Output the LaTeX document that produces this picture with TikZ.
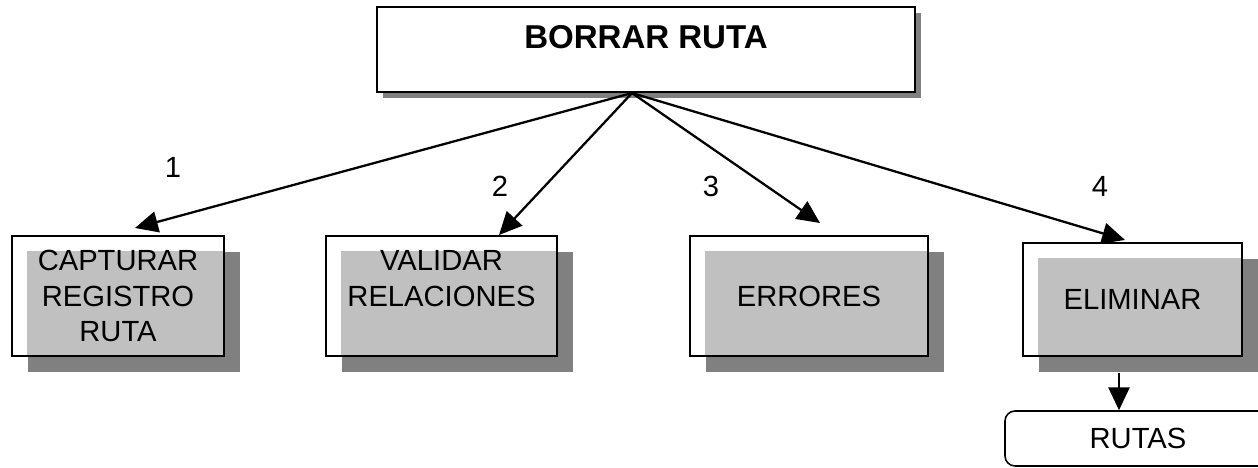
\documentclass[tikz,border=0pt]{standalone}
\usepackage{fontspec}
\setmainfont{Liberation Sans}
\usepackage{tikz}
\usetikzlibrary{arrows.meta,positioning,shadows}
\definecolor{boxfill}{HTML}{C0C0C0}
\definecolor{boxshadow}{HTML}{808080}

\begin{document}
\begin{tikzpicture}[
  lowbox/.style={draw, line width=1.1pt, fill=white, align=center, inner sep=0pt,
    font=\fontsize{16.6}{20.2}\selectfont,
    drop shadow={shadow xshift=0.32cm, shadow yshift=-0.32cm, fill=boxshadow, opacity=1},
    path picture={\fill[boxfill] ([shift={(0.3,-0.3)}]path picture bounding box.north west)
      rectangle (path picture bounding box.south east);}},
  link/.style={-{Triangle[length=13pt, width=12pt]}, line width=1.3pt},
  label/.style={font=\fontsize{16.6}{20.2}\selectfont, inner sep=0pt}
]
  \useasboundingbox (0,0) rectangle (25.16,9.36);

  % Main box
  \node[draw, line width=1.2pt, fill=white, minimum width=10.76cm, minimum height=1.70cm,
    drop shadow={shadow xshift=0.12cm, shadow yshift=-0.12cm, fill=boxshadow, opacity=1}]
    (borrar) at (12.92,8.37) {};
  \node[font=\bfseries\fontsize{18.8}{22}\selectfont, inner sep=0pt, outer sep=0pt,
    below=0.38cm of borrar.north] (borrarT) {BORRAR RUTA};

  % Sub boxes
  \node[lowbox, minimum width=4.24cm, minimum height=2.40cm] (capt) at (2.36,3.44)
    {CAPTURAR\\REGISTRO\\RUTA};
  \node[lowbox, minimum width=4.62cm, minimum height=2.40cm] (valid) at (8.83,3.44) {};
  \node[label, align=center] (validT) at ([yshift=0.35cm]valid.center) {VALIDAR\\RELACIONES};
  \node[lowbox, minimum width=4.76cm, minimum height=2.40cm] (err) at (16.18,3.44) {ERRORES};
  \node[lowbox, minimum width=4.38cm, minimum height=2.26cm] (elim) at (22.65,3.37) {ELIMINAR};

  % Data store
  \node[draw, line width=0.9pt, rounded corners=0.2cm, minimum width=5.32cm, minimum height=1.10cm,
    font=\fontsize{16.6}{20.2}\selectfont] (rutas) at (22.76,0.59) {RUTAS};

  % Arrows
  \coordinate (hub) at ([xshift=-0.28cm]borrar.south);
  \coordinate (t1) at (2.70,4.80);
  \coordinate (t2) at (9.98,4.66);
  \coordinate (t3) at (16.40,4.90);
  \coordinate (t4) at (22.50,4.56);
  \foreach \t in {t1,t2,t3,t4} {
    \draw[link] (hub) -- (\t);
  }
  \draw[link] ([xshift=-0.27cm, yshift=-0.32cm]elim.south) -- ([xshift=-0.27cm]elim.south |- rutas.north);

  % Step numbers
  \node[label] (n1) at (3.46,6.02) {1};
  \node[label] (n2) at (10.00,5.64) {2};
  \node[label] (n3) at (14.22,5.64) {3};
  \node[label] (n4) at (22.00,5.64) {4};
\end{tikzpicture}
\end{document}
